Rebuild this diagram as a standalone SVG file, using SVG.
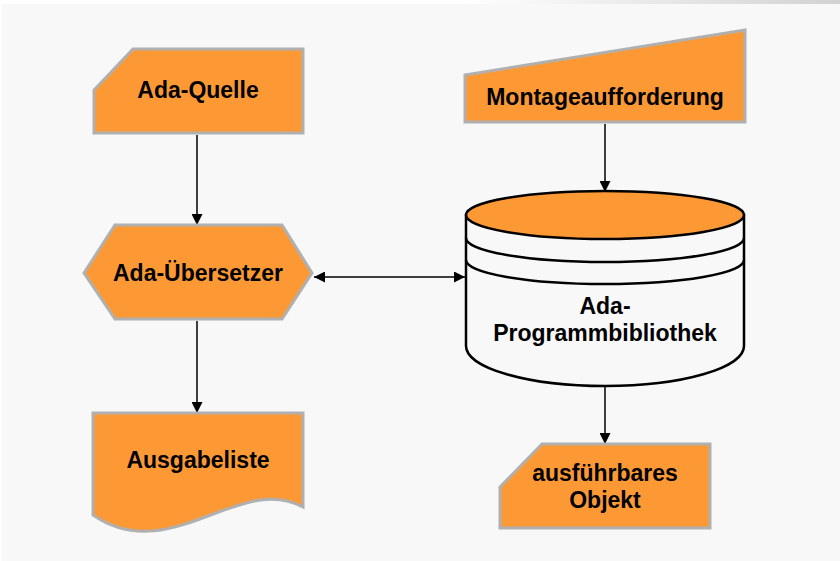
<svg xmlns="http://www.w3.org/2000/svg" width="840" height="561" viewBox="0 0 840 561">
  <defs>
    <linearGradient id="topband" x1="0" y1="0" x2="1" y2="0">
      <stop offset="0" stop-color="#ffffff"/>
      <stop offset="0.55" stop-color="#ffffff"/>
      <stop offset="1" stop-color="#d2d2d2"/>
    </linearGradient>
    <marker id="arrow" viewBox="0 0 10 10" refX="10" refY="5" markerWidth="11" markerHeight="11" markerUnits="userSpaceOnUse" orient="auto-start-reverse">
      <path d="M0,0 L10,5 L0,10 Z" fill="#000"/>
    </marker>
    <style>
      .shape { fill: #fd9934; stroke: #b0b0b0; stroke-width: 3; stroke-linejoin: miter; }
      .label { font-family: "Liberation Sans", Arial, sans-serif; font-weight: bold; font-size: 23px; fill: #000; text-anchor: middle; }
      .conn { stroke: #000; stroke-width: 1.5; fill: none; }
      .drum { stroke: #000; stroke-width: 2.5; }
    </style>
  </defs>

  <!-- background -->
  <rect x="0" y="0" width="840" height="561" fill="#f8f8f8"/>
  <rect x="0" y="0" width="840" height="4" fill="url(#topband)"/>
  <rect x="0" y="0" width="2" height="561" fill="#ffffff"/>

  <!-- connectors -->
  <g id="connectors">
    <line class="conn" x1="197" y1="135" x2="197" y2="225" marker-end="url(#arrow)"/>
    <line class="conn" x1="197" y1="321" x2="197" y2="413" marker-end="url(#arrow)"/>
    <line class="conn" x1="605" y1="124" x2="605" y2="192" marker-end="url(#arrow)"/>
    <line class="conn" x1="314" y1="277" x2="465" y2="277" marker-start="url(#arrow)" marker-end="url(#arrow)"/>
    <line class="conn" x1="605" y1="387" x2="605" y2="444" marker-end="url(#arrow)"/>
  </g>

  <!-- card: Ada-Quelle -->
  <g id="ada-quelle">
    <polygon class="shape" points="133,49 303,49 303,133 94,133 94,90"/>
    <text class="label" x="198" y="98">Ada-Quelle</text>
  </g>

  <!-- manual input: Montageaufforderung -->
  <g id="montageaufforderung">
    <polygon class="shape" points="465,75 745,30 745,122 465,122"/>
    <text class="label" x="605" y="105">Montageaufforderung</text>
  </g>

  <!-- preparation: Ada-Übersetzer -->
  <g id="ada-uebersetzer">
    <polygon class="shape" points="84,273 115,225 282,225 312,273 282,319 115,319"/>
    <text class="label" x="198" y="281">Ada-Übersetzer</text>
  </g>

  <!-- stored data: Ada-Programmbibliothek -->
  <g id="ada-programmbibliothek">
    <path class="drum" fill="#f8f8f8" d="M466,215 V346 A139,40 0 0 0 744,346 V215 Z"/>
    <ellipse class="drum" fill="#fd9934" cx="605" cy="215" rx="139" ry="24"/>
    <path class="drum" fill="none" d="M466,238 A139,24 0 0 0 744,238"/>
    <path class="drum" fill="none" d="M466,260 A139,24 0 0 0 744,260"/>
    <text class="label" x="605" y="314">Ada-</text>
    <text class="label" x="605" y="341">Programmbibliothek</text>
  </g>

  <!-- document: Ausgabeliste -->
  <g id="ausgabeliste">
    <path class="shape" d="M93,413 H303 V507 C240,472 170,568 93,515 Z"/>
    <text class="label" x="198" y="468">Ausgabeliste</text>
  </g>

  <!-- card: ausführbares Objekt -->
  <g id="ausfuehrbares-objekt">
    <polygon class="shape" points="542,444 710,444 710,528 500,528 500,487"/>
    <text class="label" x="605" y="481">ausführbares</text>
    <text class="label" x="605" y="508">Objekt</text>
  </g>
</svg>
